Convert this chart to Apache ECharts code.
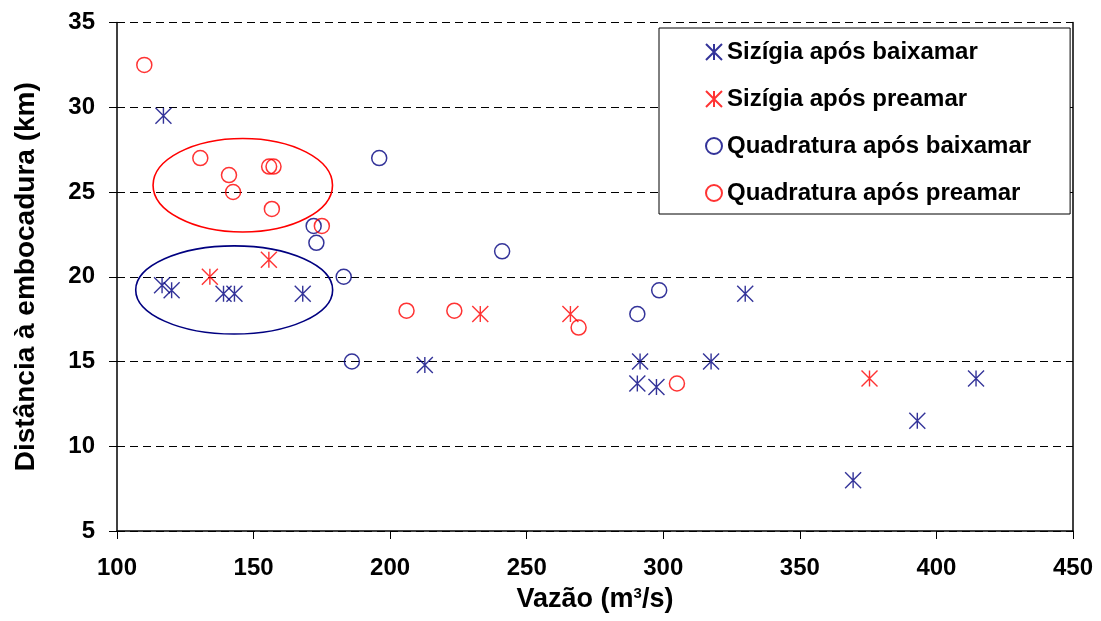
<!DOCTYPE html>
<html>
<head>
<meta charset="utf-8">
<script src="https://cdn.jsdelivr.net/npm/echarts@6/dist/echarts.min.js"></script>
<style>
  html, body { margin: 0; padding: 0; background: #ffffff; }
  #chart { width: 1101px; height: 621px; }
</style>
</head>
<body>
<div id="chart"></div>
<script>
// Series names (legend order)
const seriesNames = [
  'Sizígia após baixamar',
  'Sizígia após preamar',
  'Quadratura após baixamar',
  'Quadratura após preamar'
];

// [vazão (m³/s), distância (km)]
const sizigiaBaixamar = [
  [117, 29.5], [116.5, 19.5], [120, 19.2], [139, 19], [143, 19], [168, 19],
  [212.7, 14.8], [290.5, 13.7], [291.5, 15], [297.5, 13.5], [317.5, 15],
  [330, 19], [369.5, 8], [393, 11.5], [414.5, 14]
];
const sizigiaPreamar = [
  [134, 20], [155.6, 21], [233, 17.8], [266, 17.8], [375.5, 14]
];
const quadraturaBaixamar = [
  [196, 27], [172, 23], [173, 22], [183, 20], [186, 15], [241, 21.5],
  [290.5, 17.8], [298.5, 19.2]
];
const quadraturaPreamar = [
  [110, 32.5], [130.5, 27], [141, 26], [142.5, 25], [155.7, 26.5],
  [157.3, 26.5], [156.7, 24], [175, 23], [206, 18], [223.5, 18],
  [269, 17], [305, 13.7]
];

// Highlight ellipses in data units: [centre x, centre y, radius x, radius y]
const ellipseRed = [146.05, 25.4, 32.85, 2.76];
const ellipseBlue = [142.9, 19.22, 36.05, 2.6];

// Axis ranges
const xMin = 100, xMax = 450, xStep = 50;
const yMin = 5, yMax = 35, yStep = 5;

const NAVY = '#000080';
const RED = '#ff0000';
const FONT = '"Liberation Sans", Arial, sans-serif';
const STAR = 'path://M0,0 L16,16 M16,0 L0,16 M8,0 L8,16';

function starSeries(name, data, color) {
  return {
    name, type: 'scatter', data,
    symbol: STAR, symbolSize: 16, symbolKeepAspect: true,
    itemStyle: { color: 'transparent', borderColor: color, borderWidth: 1.4 },
    emphasis: { disabled: true }, z: 3
  };
}
function circleSeries(name, data, color) {
  return {
    name, type: 'scatter', data,
    symbol: 'circle', symbolSize: 15,
    itemStyle: { color: 'transparent', borderColor: color, borderWidth: 1.5 },
    emphasis: { disabled: true }, z: 3
  };
}
function ellipseSeries(e, color) {
  return {
    type: 'custom', data: [e], z: 4, silent: true,
    renderItem: function (params, api) {
      const c = api.coord([api.value(0), api.value(1)]);
      const px = api.coord([api.value(0) + api.value(2), api.value(1)]);
      const py = api.coord([api.value(0), api.value(1) + api.value(3)]);
      return {
        type: 'ellipse',
        shape: { cx: c[0], cy: c[1], rx: Math.abs(px[0] - c[0]), ry: Math.abs(c[1] - py[1]) },
        style: { fill: 'none', stroke: color, lineWidth: 1.6 }
      };
    }
  };
}

const chart = echarts.init(document.getElementById('chart'), null, { renderer: 'canvas' });
chart.setOption({
  animation: false,
  backgroundColor: '#ffffff',
  textStyle: { fontFamily: FONT },
  grid: { left: 117, right: 28, top: 22.5, bottom: 90, containLabel: false },
  legend: {
    data: seriesNames.map(n => ({ name: n })),
    orient: 'vertical',
    left: 659, top: 28,
    padding: [12, 39, 9, 46],
    itemGap: 23,
    itemWidth: 16, itemHeight: 16,
    borderColor: '#000000', borderWidth: 1,
    backgroundColor: '#ffffff',
    selectedMode: false,
    textStyle: { fontFamily: FONT, fontWeight: 'bold', fontSize: 24, color: '#000000' }
  },
  xAxis: {
    type: 'value', min: xMin, max: xMax, interval: xStep,
    name: 'Vazão (m{sup|3}/s)',
    nameLocation: 'middle', nameGap: 55,
    nameTextStyle: {
      fontFamily: FONT, fontWeight: 'bold', fontSize: 27, color: '#000000',
      rich: { sup: { fontFamily: FONT, fontWeight: 'bold', fontSize: 15, verticalAlign: 'top', padding: [0, 0, 12, 0] } }
    },
    axisLine: { show: true, onZero: false, lineStyle: { color: '#000000', width: 1.5 } },
    axisTick: { show: true, inside: false, length: 8, lineStyle: { color: '#000000', width: 1 } },
    axisLabel: { margin: 25, fontFamily: FONT, fontWeight: 'bold', fontSize: 24, color: '#000000' },
    splitLine: { show: false }
  },
  yAxis: [{
    type: 'value', min: yMin, max: yMax, interval: yStep,
    name: 'Distância à embocadura (km)',
    nameLocation: 'middle', nameGap: 77, nameRotate: 90,
    nameTextStyle: { fontFamily: FONT, fontWeight: 'bold', fontSize: 28, color: '#000000' },
    axisLine: { show: true, onZero: false, lineStyle: { color: '#000000', width: 1.5 } },
    axisTick: { show: true, inside: false, length: 8, lineStyle: { color: '#000000', width: 1 } },
    axisLabel: { margin: 22, fontFamily: FONT, fontWeight: 'bold', fontSize: 24, color: '#000000' },
    splitLine: { show: true, lineStyle: { color: '#000000', width: 1, type: [8, 5] } }
  }, {
    type: 'value', min: yMin, max: yMax, interval: yStep, position: 'right',
    axisLine: { show: true, onZero: false, lineStyle: { color: '#000000', width: 1.5 } },
    axisTick: { show: false }, axisLabel: { show: false }, splitLine: { show: false }
  }],
  series: [
    starSeries(seriesNames[0], sizigiaBaixamar, NAVY),
    starSeries(seriesNames[1], sizigiaPreamar, RED),
    circleSeries(seriesNames[2], quadraturaBaixamar, NAVY),
    circleSeries(seriesNames[3], quadraturaPreamar, RED),
    ellipseSeries(ellipseRed, RED),
    ellipseSeries(ellipseBlue, NAVY)
  ]
});
</script>
</body>
</html>
